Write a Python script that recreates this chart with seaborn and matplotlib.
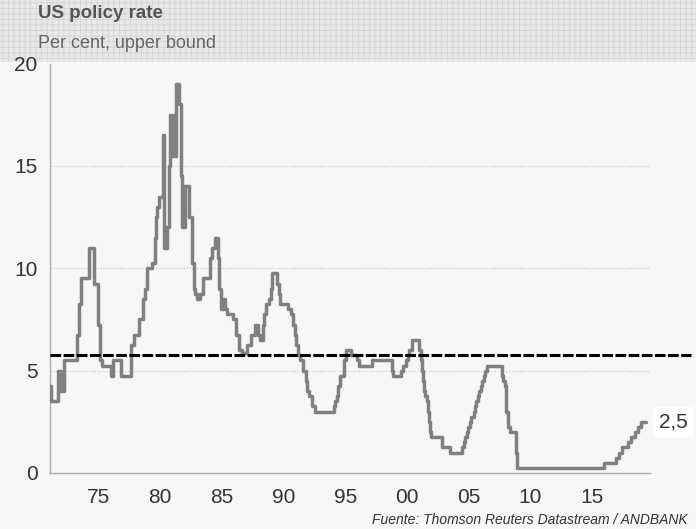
import numpy as np
import pandas as pd
import matplotlib
matplotlib.use("Agg")
import matplotlib.pyplot as plt
from matplotlib.patches import Rectangle
import seaborn as sns

# Change points of the US policy rate (decimal year, per cent upper bound)
years = [1971.07, 1971.12, 1971.7, 1972.0, 1972.2, 1973.25, 1973.4, 1973.55, 1974.2, 1974.6,
         1974.95, 1975.1, 1975.3, 1976.0, 1976.2, 1976.8, 1977.6, 1977.9, 1978.3, 1978.6,
         1978.75, 1978.9, 1979.3, 1979.6, 1979.7, 1979.75, 1979.9, 1980.2, 1980.3, 1980.35,
         1980.55, 1980.7, 1980.8, 1980.9, 1981.0, 1981.15, 1981.3, 1981.5, 1981.7, 1981.8,
         1982.0, 1982.35, 1982.6, 1982.75, 1982.85, 1983.0, 1983.25, 1983.5, 1984.05, 1984.2,
         1984.45, 1984.65, 1984.8, 1984.95, 1985.1, 1985.25, 1985.4, 1985.9, 1986.15, 1986.4,
         1986.6, 1987.0, 1987.35, 1987.7, 1987.9, 1988.05, 1988.3, 1988.45, 1988.6, 1988.8,
         1988.95, 1989.1, 1989.45, 1989.6, 1989.75, 1990.4, 1990.6, 1990.8, 1990.9, 1991.0,
         1991.2, 1991.35, 1991.6, 1991.8, 1991.9, 1992.1, 1992.3, 1992.55, 1994.05, 1994.2,
         1994.3, 1994.4, 1994.6, 1994.9, 1995.1, 1995.5, 1995.95, 1996.1, 1997.2, 1998.75,
         1998.8, 1998.9, 1999.5, 1999.65, 1999.9, 2000.1, 2000.2, 2000.4, 2001.0, 2001.1,
         2001.2, 2001.3, 2001.4, 2001.5, 2001.65, 2001.7, 2001.8, 2001.85, 2001.95, 2002.85,
         2003.5, 2004.5, 2004.6, 2004.7, 2004.85, 2004.95, 2005.1, 2005.2, 2005.4, 2005.5,
         2005.6, 2005.75, 2005.85, 2006.0, 2006.1, 2006.25, 2006.35, 2006.5, 2007.7, 2007.8,
         2007.95, 2008.05, 2008.2, 2008.35, 2008.8, 2008.85, 2008.95, 2015.95, 2016.95, 2017.2,
         2017.45, 2017.95, 2018.2, 2018.45, 2018.7, 2018.95, 2019.4]
rates = [4.25, 3.5, 5.0, 4.0, 5.5, 6.75, 8.25, 9.5, 11.0, 9.25,
         7.25, 5.5, 5.25, 4.75, 5.5, 4.75, 6.25, 6.75, 7.5, 8.5,
         9.0, 10.0, 10.25, 11.5, 12.5, 13.0, 13.5, 16.5, 13.5, 11.0,
         12.0, 15.0, 17.5, 15.5, 17.5, 15.5, 19.0, 18.0, 14.5, 12.0,
         14.0, 12.5, 10.25, 9.0, 8.75, 8.5, 8.75, 9.5, 10.5, 11.0,
         11.5, 10.5, 9.0, 8.0, 8.5, 8.0, 7.75, 7.5, 6.75, 6.0,
         5.85, 6.25, 6.75, 7.25, 6.75, 6.5, 7.25, 7.75, 8.25, 8.5,
         9.0, 9.75, 9.25, 8.75, 8.25, 8.0, 7.75, 7.25, 6.75, 6.25,
         5.75, 5.5, 5.0, 4.5, 4.0, 3.75, 3.25, 3.0, 3.25, 3.5,
         3.75, 4.25, 4.75, 5.5, 6.0, 5.75, 5.5, 5.25, 5.5, 5.25,
         5.0, 4.75, 5.0, 5.25, 5.5, 5.75, 6.0, 6.5, 6.0, 5.5,
         5.0, 4.5, 4.0, 3.75, 3.5, 3.0, 2.5, 2.0, 1.75, 1.25,
         1.0, 1.25, 1.5, 1.75, 2.0, 2.25, 2.5, 2.75, 3.0, 3.25,
         3.5, 3.75, 4.0, 4.25, 4.5, 4.75, 5.0, 5.25, 4.75, 4.5,
         4.25, 3.0, 2.25, 2.0, 1.5, 1.0, 0.25, 0.5, 0.75, 1.0,
         1.25, 1.5, 1.75, 2.0, 2.25, 2.5, 2.5]
average_rate = 5.75
last_label = "2,5"
tick_years = [1975, 1980, 1985, 1990, 1995, 2000, 2005, 2010, 2015]
tick_labels = ["75", "80", "85", "90", "95", "00", "05", "10", "15"]
y_ticks = [0, 5, 10, 15, 20]
title = "US policy rate"
subtitle = "Per cent, upper bound"
source = "Fuente: Thomson Reuters Datastream / ANDBANK"

df = pd.DataFrame({"year": years, "rate": rates})

sns.set_style("white", {"axes.facecolor": "#f7f7f7", "figure.facecolor": "#f7f7f7"})
plt.rcParams["font.family"] = ["Liberation Sans", "DejaVu Sans"]
plt.rcParams["hatch.color"] = "#d6d6d6"
plt.rcParams["hatch.linewidth"] = 0.6

fig = plt.figure(figsize=(6.96, 5.29), dpi=100)
fig.patch.set_facecolor("#f7f7f7")

# header band
hdr_bottom = 1 - 62 / 529
fig.patches.append(Rectangle((0, hdr_bottom), 1, 1 - hdr_bottom, transform=fig.transFigure,
                             facecolor="#e8e8e8", edgecolor="#d6d6d6", hatch="+++",
                             linewidth=0, zorder=-10))
fig.text(38 / 696, 1 - 13 / 529, title, fontsize=13.5, fontweight="bold", color="#555555",
         va="center", ha="left")
fig.text(38 / 696, 1 - 44 / 529, subtitle, fontsize=13, color="#666666",
         va="center", ha="left")

ax = fig.add_axes([50 / 696, 1 - 473 / 529, 600 / 696, (473 - 63.5) / 529])
ax.set_facecolor("#f7f7f7")
ax.set_zorder(2)

sns.lineplot(data=df, x="year", y="rate", ax=ax, color="#808080", linewidth=2.5,
             drawstyle="steps-post", estimator=None, sort=False, zorder=3)

ax.set_xlim(1971.07, 2019.7)
ax.set_ylim(0, 20)

ax.plot([1971.07, 2023.0], [average_rate, average_rate], color="black", linewidth=2.2,
        dashes=(3.5, 0.8), clip_on=False, zorder=4)

for v in [5, 10, 15]:
    ax.axhline(v, color="#c8c8c8", linewidth=0.8, linestyle=(0, (1, 1.5)), zorder=1)

ax.set_xticks(tick_years)
ax.set_xticklabels(tick_labels)
ax.set_xticks(np.arange(1972, 2020, 1), minor=True)
ax.set_yticks(y_ticks)
ax.set_yticklabels([str(v) for v in y_ticks])
ax.set_yticks(np.arange(0, 21, 1), minor=True)
ax.tick_params(axis="both", which="major", labelsize=15, colors="#aaaaaa",
               labelcolor="#333333", length=5, width=1, direction="out")
ax.tick_params(axis="both", which="minor", colors="#aaaaaa", length=3, width=0.8,
               direction="out")
ax.tick_params(axis="x", pad=6)
ax.tick_params(axis="y", pad=4)

for s in ["top", "right"]:
    ax.spines[s].set_visible(False)
for s in ["left", "bottom"]:
    ax.spines[s].set_color("#aaaaaa")
    ax.spines[s].set_linewidth(1)

ax.set_xlabel("")
ax.set_ylabel("")

ax.text(2020.4, 2.5, last_label, fontsize=15, color="#333333", va="center", ha="left",
        clip_on=False, bbox=dict(boxstyle="square,pad=0.25", facecolor="white",
                                 edgecolor="none"))

fig.text(688 / 696, 1 - 520 / 529, source, fontsize=10, style="italic", color="#333333",
         ha="right", va="center")

fig.savefig("out.png", dpi=100, facecolor=fig.get_facecolor())
